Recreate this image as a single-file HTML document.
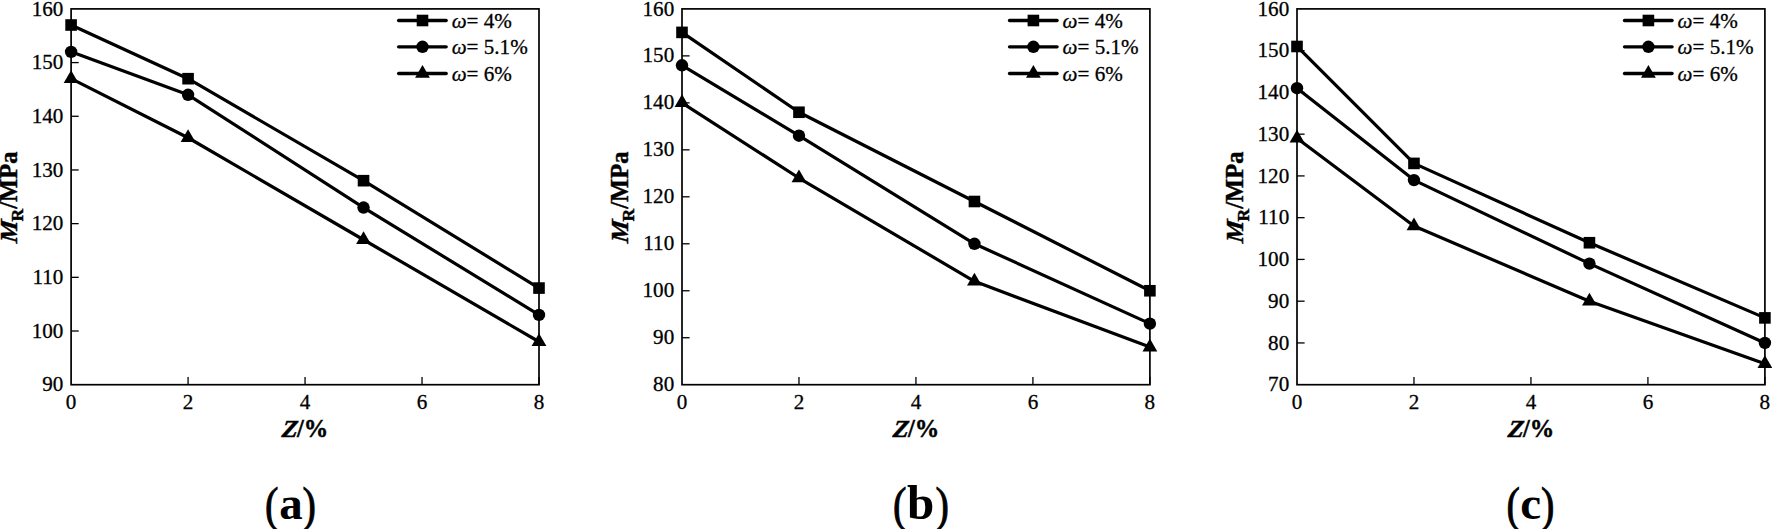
<!DOCTYPE html>
<html lang="en">
<head>
<meta charset="utf-8">
<title>Figure</title>
<style>
html,body{margin:0;padding:0;background:#fff;}
body{width:1772px;height:529px;overflow:hidden;}
svg{display:block;}
text{font-family:"Liberation Serif","DejaVu Serif",serif;fill:#000;}
.tk{font-size:21.1px;stroke:#000;stroke-width:0.3px;}
.ttl{font-size:24.5px;font-weight:bold;stroke:#000;stroke-width:0.45px;}
.cap{font-size:48px;}
.par{stroke:#000;stroke-width:0.9px;}
.ln{fill:none;stroke:#000;stroke-width:3.2;stroke-linejoin:round;stroke-linecap:butt;}
.fr{fill:none;stroke:#000;stroke-width:1.7;}
.lg{fill:none;stroke:#000;stroke-width:3.3;stroke-linecap:round;}
.ti{stroke:#000;stroke-width:1.3;}
</style>
</head>
<body>
<svg width="1772" height="529" viewBox="0 0 1772 529">
<rect width="1772" height="529" fill="#fff"/>

<g transform="translate(0,0)">
<text class="tk" text-anchor="end" x="63.30" y="391.30">90</text>
<line class="ti" x1="71.10" y1="331.01" x2="78.70" y2="331.01"/>
<text class="tk" text-anchor="end" x="63.30" y="337.61">100</text>
<line class="ti" x1="71.10" y1="277.33" x2="78.70" y2="277.33"/>
<text class="tk" text-anchor="end" x="63.30" y="283.93">110</text>
<line class="ti" x1="71.10" y1="223.64" x2="78.70" y2="223.64"/>
<text class="tk" text-anchor="end" x="63.30" y="230.24">120</text>
<line class="ti" x1="71.10" y1="169.96" x2="78.70" y2="169.96"/>
<text class="tk" text-anchor="end" x="63.30" y="176.56">130</text>
<line class="ti" x1="71.10" y1="116.27" x2="78.70" y2="116.27"/>
<text class="tk" text-anchor="end" x="63.30" y="122.87">140</text>
<line class="ti" x1="71.10" y1="62.59" x2="78.70" y2="62.59"/>
<text class="tk" text-anchor="end" x="63.30" y="69.19">150</text>
<text class="tk" text-anchor="end" x="63.30" y="15.50">160</text>
<text class="tk" text-anchor="middle" x="71.10" y="408.8">0</text>
<line class="ti" x1="188.07" y1="384.70" x2="188.07" y2="377.10"/>
<text class="tk" text-anchor="middle" x="188.07" y="408.8">2</text>
<line class="ti" x1="305.05" y1="384.70" x2="305.05" y2="377.10"/>
<text class="tk" text-anchor="middle" x="305.05" y="408.8">4</text>
<line class="ti" x1="422.02" y1="384.70" x2="422.02" y2="377.10"/>
<text class="tk" text-anchor="middle" x="422.02" y="408.8">6</text>
<line class="ti" x1="539.00" y1="384.70" x2="539.00" y2="377.10"/>
<text class="tk" text-anchor="middle" x="539.00" y="408.8">8</text>
<rect class="fr" x="71.1" y="8.9" width="467.90" height="375.80"/>
<polyline class="ln" points="71.10,25.01 188.07,78.69 363.54,180.69 539.00,288.07"/>
<rect x="65.30" y="19.21" width="11.6" height="11.6"/><rect x="182.27" y="72.89" width="11.6" height="11.6"/><rect x="357.74" y="174.89" width="11.6" height="11.6"/><rect x="533.20" y="282.27" width="11.6" height="11.6"/>
<polyline class="ln" points="71.10,51.85 188.07,94.80 363.54,207.54 539.00,314.91"/>
<circle cx="71.10" cy="51.85" r="6.2"/><circle cx="188.07" cy="94.80" r="6.2"/><circle cx="363.54" cy="207.54" r="6.2"/><circle cx="539.00" cy="314.91" r="6.2"/>
<polyline class="ln" points="71.10,78.69 188.07,137.75 363.54,239.75 539.00,341.75"/>
<polygon points="71.10,70.16 63.70,82.96 78.50,82.96"/><polygon points="188.07,129.22 180.67,142.02 195.47,142.02"/><polygon points="363.54,231.22 356.14,244.02 370.94,244.02"/><polygon points="539.00,333.22 531.60,346.02 546.40,346.02"/>
<line class="lg" x1="398.6" y1="20.5" x2="446.2" y2="20.5"/><rect x="416.70" y="14.70" width="11.6" height="11.6"/>
<text class="tk" x="451.7" y="28.00"><tspan font-style="italic">ω</tspan>= 4%</text>
<line class="lg" x1="398.6" y1="46.8" x2="446.2" y2="46.8"/><circle cx="422.50" cy="46.80" r="6.2"/>
<text class="tk" x="451.7" y="54.30"><tspan font-style="italic">ω</tspan>= 5.1%</text>
<line class="lg" x1="398.6" y1="73.5" x2="446.2" y2="73.5"/><polygon points="422.50,64.97 415.10,77.77 429.90,77.77"/>
<text class="tk" x="451.7" y="81.00"><tspan font-style="italic">ω</tspan>= 6%</text>
<text class="ttl" font-style="italic" transform="translate(281.3,437) skewX(-7) scale(1.06,1)">Z</text>
<text class="ttl" x="297" y="437">/%</text>
<text class="ttl" font-style="italic" transform="translate(17.3,197.4) rotate(-90) translate(-46.2,0) skewX(-6) scale(1.04,1)">M</text>
<text class="ttl" text-anchor="end" transform="translate(17.3,197.4) rotate(-90) translate(45.8,0)"><tspan font-size="17.5" dy="6.1">R</tspan><tspan dy="-6.1">/MPa</tspan></text>
</g>
<g transform="translate(610.9,0)">
<text class="tk" text-anchor="end" x="63.30" y="391.30">80</text>
<line class="ti" x1="71.10" y1="337.72" x2="78.70" y2="337.72"/>
<text class="tk" text-anchor="end" x="63.30" y="344.32">90</text>
<line class="ti" x1="71.10" y1="290.75" x2="78.70" y2="290.75"/>
<text class="tk" text-anchor="end" x="63.30" y="297.35">100</text>
<line class="ti" x1="71.10" y1="243.78" x2="78.70" y2="243.78"/>
<text class="tk" text-anchor="end" x="63.30" y="250.38">110</text>
<line class="ti" x1="71.10" y1="196.80" x2="78.70" y2="196.80"/>
<text class="tk" text-anchor="end" x="63.30" y="203.40">120</text>
<line class="ti" x1="71.10" y1="149.83" x2="78.70" y2="149.83"/>
<text class="tk" text-anchor="end" x="63.30" y="156.43">130</text>
<line class="ti" x1="71.10" y1="102.85" x2="78.70" y2="102.85"/>
<text class="tk" text-anchor="end" x="63.30" y="109.45">140</text>
<line class="ti" x1="71.10" y1="55.88" x2="78.70" y2="55.88"/>
<text class="tk" text-anchor="end" x="63.30" y="62.48">150</text>
<text class="tk" text-anchor="end" x="63.30" y="15.50">160</text>
<text class="tk" text-anchor="middle" x="71.10" y="408.8">0</text>
<line class="ti" x1="188.07" y1="384.70" x2="188.07" y2="377.10"/>
<text class="tk" text-anchor="middle" x="188.07" y="408.8">2</text>
<line class="ti" x1="305.05" y1="384.70" x2="305.05" y2="377.10"/>
<text class="tk" text-anchor="middle" x="305.05" y="408.8">4</text>
<line class="ti" x1="422.02" y1="384.70" x2="422.02" y2="377.10"/>
<text class="tk" text-anchor="middle" x="422.02" y="408.8">6</text>
<line class="ti" x1="539.00" y1="384.70" x2="539.00" y2="377.10"/>
<text class="tk" text-anchor="middle" x="539.00" y="408.8">8</text>
<rect class="fr" x="71.1" y="8.9" width="467.90" height="375.80"/>
<polyline class="ln" points="71.10,32.39 188.07,112.25 363.54,201.50 539.00,290.75"/>
<rect x="65.30" y="26.59" width="11.6" height="11.6"/><rect x="182.27" y="106.45" width="11.6" height="11.6"/><rect x="357.74" y="195.70" width="11.6" height="11.6"/><rect x="533.20" y="284.95" width="11.6" height="11.6"/>
<polyline class="ln" points="71.10,65.27 188.07,135.73 363.54,243.78 539.00,323.63"/>
<circle cx="71.10" cy="65.27" r="6.2"/><circle cx="188.07" cy="135.73" r="6.2"/><circle cx="363.54" cy="243.78" r="6.2"/><circle cx="539.00" cy="323.63" r="6.2"/>
<polyline class="ln" points="71.10,102.85 188.07,178.01 363.54,281.35 539.00,347.12"/>
<polygon points="71.10,94.32 63.70,107.12 78.50,107.12"/><polygon points="188.07,169.48 180.67,182.28 195.47,182.28"/><polygon points="363.54,272.82 356.14,285.62 370.94,285.62"/><polygon points="539.00,338.59 531.60,351.39 546.40,351.39"/>
<line class="lg" x1="398.6" y1="20.5" x2="446.2" y2="20.5"/><rect x="416.70" y="14.70" width="11.6" height="11.6"/>
<text class="tk" x="451.7" y="28.00"><tspan font-style="italic">ω</tspan>= 4%</text>
<line class="lg" x1="398.6" y1="46.8" x2="446.2" y2="46.8"/><circle cx="422.50" cy="46.80" r="6.2"/>
<text class="tk" x="451.7" y="54.30"><tspan font-style="italic">ω</tspan>= 5.1%</text>
<line class="lg" x1="398.6" y1="73.5" x2="446.2" y2="73.5"/><polygon points="422.50,64.97 415.10,77.77 429.90,77.77"/>
<text class="tk" x="451.7" y="81.00"><tspan font-style="italic">ω</tspan>= 6%</text>
<text class="ttl" font-style="italic" transform="translate(281.3,437) skewX(-7) scale(1.06,1)">Z</text>
<text class="ttl" x="297" y="437">/%</text>
<text class="ttl" font-style="italic" transform="translate(17.3,197.4) rotate(-90) translate(-46.2,0) skewX(-6) scale(1.04,1)">M</text>
<text class="ttl" text-anchor="end" transform="translate(17.3,197.4) rotate(-90) translate(45.8,0)"><tspan font-size="17.5" dy="6.1">R</tspan><tspan dy="-6.1">/MPa</tspan></text>
</g>
<g transform="translate(1225.9,0)">
<text class="tk" text-anchor="end" x="63.30" y="391.30">70</text>
<line class="ti" x1="71.10" y1="342.94" x2="78.70" y2="342.94"/>
<text class="tk" text-anchor="end" x="63.30" y="349.54">80</text>
<line class="ti" x1="71.10" y1="301.19" x2="78.70" y2="301.19"/>
<text class="tk" text-anchor="end" x="63.30" y="307.79">90</text>
<line class="ti" x1="71.10" y1="259.43" x2="78.70" y2="259.43"/>
<text class="tk" text-anchor="end" x="63.30" y="266.03">100</text>
<line class="ti" x1="71.10" y1="217.68" x2="78.70" y2="217.68"/>
<text class="tk" text-anchor="end" x="63.30" y="224.28">110</text>
<line class="ti" x1="71.10" y1="175.92" x2="78.70" y2="175.92"/>
<text class="tk" text-anchor="end" x="63.30" y="182.52">120</text>
<line class="ti" x1="71.10" y1="134.17" x2="78.70" y2="134.17"/>
<text class="tk" text-anchor="end" x="63.30" y="140.77">130</text>
<line class="ti" x1="71.10" y1="92.41" x2="78.70" y2="92.41"/>
<text class="tk" text-anchor="end" x="63.30" y="99.01">140</text>
<line class="ti" x1="71.10" y1="50.66" x2="78.70" y2="50.66"/>
<text class="tk" text-anchor="end" x="63.30" y="57.26">150</text>
<text class="tk" text-anchor="end" x="63.30" y="15.50">160</text>
<text class="tk" text-anchor="middle" x="71.10" y="408.8">0</text>
<line class="ti" x1="188.07" y1="384.70" x2="188.07" y2="377.10"/>
<text class="tk" text-anchor="middle" x="188.07" y="408.8">2</text>
<line class="ti" x1="305.05" y1="384.70" x2="305.05" y2="377.10"/>
<text class="tk" text-anchor="middle" x="305.05" y="408.8">4</text>
<line class="ti" x1="422.02" y1="384.70" x2="422.02" y2="377.10"/>
<text class="tk" text-anchor="middle" x="422.02" y="408.8">6</text>
<line class="ti" x1="539.00" y1="384.70" x2="539.00" y2="377.10"/>
<text class="tk" text-anchor="middle" x="539.00" y="408.8">8</text>
<rect class="fr" x="71.1" y="8.9" width="467.90" height="375.80"/>
<polyline class="ln" points="71.10,46.48 188.07,163.40 363.54,242.73 539.00,317.89"/>
<rect x="65.30" y="40.68" width="11.6" height="11.6"/><rect x="182.27" y="157.60" width="11.6" height="11.6"/><rect x="357.74" y="236.93" width="11.6" height="11.6"/><rect x="533.20" y="312.09" width="11.6" height="11.6"/>
<polyline class="ln" points="71.10,88.24 188.07,180.10 363.54,263.61 539.00,342.94"/>
<circle cx="71.10" cy="88.24" r="6.2"/><circle cx="188.07" cy="180.10" r="6.2"/><circle cx="363.54" cy="263.61" r="6.2"/><circle cx="539.00" cy="342.94" r="6.2"/>
<polyline class="ln" points="71.10,138.34 188.07,226.03 363.54,301.19 539.00,363.82"/>
<polygon points="71.10,129.81 63.70,142.61 78.50,142.61"/><polygon points="188.07,217.50 180.67,230.30 195.47,230.30"/><polygon points="363.54,292.66 356.14,305.46 370.94,305.46"/><polygon points="539.00,355.29 531.60,368.09 546.40,368.09"/>
<line class="lg" x1="398.6" y1="20.5" x2="446.2" y2="20.5"/><rect x="416.70" y="14.70" width="11.6" height="11.6"/>
<text class="tk" x="451.7" y="28.00"><tspan font-style="italic">ω</tspan>= 4%</text>
<line class="lg" x1="398.6" y1="46.8" x2="446.2" y2="46.8"/><circle cx="422.50" cy="46.80" r="6.2"/>
<text class="tk" x="451.7" y="54.30"><tspan font-style="italic">ω</tspan>= 5.1%</text>
<line class="lg" x1="398.6" y1="73.5" x2="446.2" y2="73.5"/><polygon points="422.50,64.97 415.10,77.77 429.90,77.77"/>
<text class="tk" x="451.7" y="81.00"><tspan font-style="italic">ω</tspan>= 6%</text>
<text class="ttl" font-style="italic" transform="translate(281.3,437) skewX(-7) scale(1.06,1)">Z</text>
<text class="ttl" x="297" y="437">/%</text>
<text class="ttl" font-style="italic" transform="translate(17.3,197.4) rotate(-90) translate(-46.2,0) skewX(-6) scale(1.04,1)">M</text>
<text class="ttl" text-anchor="end" transform="translate(17.3,197.4) rotate(-90) translate(45.8,0)"><tspan font-size="17.5" dy="6.1">R</tspan><tspan dy="-6.1">/MPa</tspan></text>
</g>
<text class="cap par" transform="translate(265.00,520.5) scale(0.84,1)">(</text>
<text class="cap" font-weight="bold" style="font-size:47px" x="279.20" y="519">a</text>
<text class="cap par" transform="translate(302.50,520.5) scale(0.84,1)">)</text>
<text class="cap par" transform="translate(893.10,520.5) scale(0.84,1)">(</text>
<text class="cap" font-weight="bold" style="font-size:49px" x="906.90" y="519">b</text>
<text class="cap par" transform="translate(935.40,520.5) scale(0.84,1)">)</text>
<text class="cap par" transform="translate(1506.40,520.5) scale(0.84,1)">(</text>
<text class="cap" font-weight="bold" style="font-size:47px" x="1520.30" y="519">c</text>
<text class="cap par" transform="translate(1540.90,520.5) scale(0.84,1)">)</text>
</svg>
</body>
</html>
